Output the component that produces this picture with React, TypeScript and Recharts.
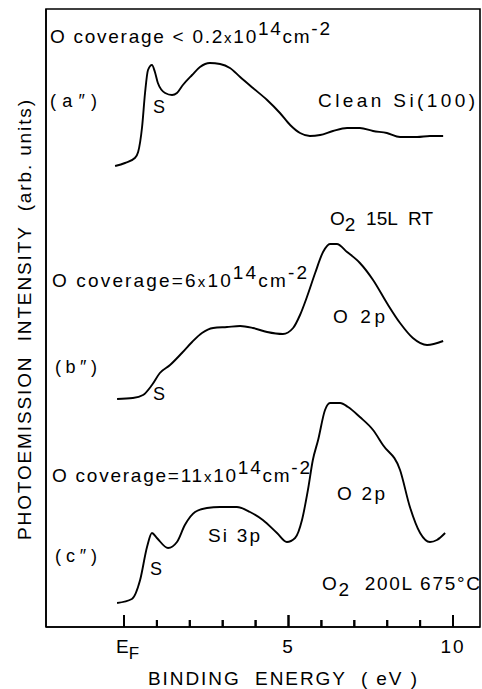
import React from "react";
import { LineChart, Line, XAxis, YAxis, ReferenceArea } from "recharts";

// binding energy (eV) and intensity (arb. units)
const energyA = [-0.27, 0.03, 0.33, 0.43, 0.55, 0.64, 0.73, 0.85, 0.94, 1.03, 1.25, 1.46, 1.61, 1.79, 2.07, 2.31, 2.61, 2.92, 3.22, 3.53, 3.92, 4.35, 4.74, 5.05, 5.35, 5.65, 5.96, 6.35, 6.78, 7.17, 7.57, 7.99, 8.39, 8.91, 9.3, 9.7];
const intensityA = [461, 464, 469, 475, 500, 534, 557, 562, 555, 544, 534, 532, 534, 542, 552, 560, 564, 563, 559, 550, 539, 527, 514, 502, 494, 491, 492, 496, 499, 499, 496, 494, 490, 490, 491, 491];

const energyB = [-0.21, 0.27, 0.58, 0.85, 1.09, 1.4, 1.76, 2.07, 2.37, 2.71, 3.13, 3.53, 3.92, 4.35, 4.83, 5.14, 5.35, 5.56, 5.81, 6.05, 6.26, 6.47, 6.78, 7.17, 7.57, 7.99, 8.39, 8.78, 9.21, 9.7];
const intensityB = [228, 229, 232, 242, 254, 262, 274, 285, 294, 299, 300, 301, 299, 295, 293, 299, 312, 330, 354, 375, 383, 383, 375, 364, 347, 324, 304, 289, 282, 286];

const energyC = [-0.21, 0.24, 0.49, 0.7, 0.85, 1.0, 1.34, 1.61, 1.85, 2.16, 2.52, 2.92, 3.43, 3.83, 4.22, 4.65, 4.95, 5.2, 5.41, 5.59, 5.74, 5.9, 6.11, 6.26, 6.57, 6.81, 7.17, 7.57, 7.87, 8.39, 8.69, 9.0, 9.3, 9.51, 9.76];
const intensityC = [24, 28, 47, 80, 94, 89, 79, 85, 102, 115, 119, 120, 120, 115, 107, 94, 85, 89, 107, 137, 167, 187, 217, 224, 224, 220, 210, 197, 182, 157, 120, 94, 85, 87, 94];

const xDomain = [-2.37, 10.82];
const yDomain = [0, 618];
const xTicks = [0, 1, 2, 3, 4, 5, 6, 7, 8, 9, 10];
const majorTicks: Record<number, string> = { 0: "E", 5: "5", 10: "10" };

const toRows = (e: number[], v: number[]) => e.map((x, i) => ({ e: x, v: v[i] }));
const curveA = toRows(energyA, intensityA);
const curveB = toRows(energyB, intensityB);
const curveC = toRows(energyC, intensityC);

const FONT = "'Liberation Sans', Arial, Helvetica, sans-serif";

// tick labels under the axis (E_F, 5, 10) plus inward tick marks
function Tick(props: any) {
  const { x, y, payload } = props;
  const major = payload.value in majorTicks;
  return (
    <g>
      <line x1={x} x2={x} y1={y} y2={y - (major ? 12 : 7)} stroke="#000" strokeWidth={2} />
      {major && payload.value === 0 && (
        <text x={x - 8} y={y + 26} fontSize={19} fontFamily={FONT} fill="#000">
          E<tspan fontSize={17} dy={6}>F</tspan>
        </text>
      )}
      {major && payload.value !== 0 && (
        <text x={x} y={y + 26} fontSize={19} fontFamily={FONT} fill="#000" textAnchor="middle" letterSpacing={2}>
          {majorTicks[payload.value]}
        </text>
      )}
    </g>
  );
}

export default function App() {
  const t = { fontFamily: FONT, fill: "#000", fontSize: 19, lengthAdjust: "spacing", style: { whiteSpace: "pre" } } as const;
  return (
    <div style={{ position: "absolute", left: 0, top: 0, width: 482, height: 689, background: "#fff" }}>
      <svg width={482} height={689} style={{ position: "absolute", left: 0, top: 0, pointerEvents: "none" }}>
        <text {...t} x={50} y={43} textLength={280}>
          O coverage &lt; 0.2<tspan fontSize={15}>x</tspan>10<tspan dy={-8}>14</tspan>
          <tspan dy={8}>cm</tspan><tspan dy={-8}>-2</tspan>
        </text>
        <text {...t} x={50} y={107} fontSize={18} textLength={47}>(a″)</text>
        <text {...t} x={153} y={113} fontSize={18}>S</text>
        <text {...t} x={318} y={107} textLength={157}>Clean Si(100)</text>
        <text {...t} x={330} y={225} textLength={103}>
          O<tspan dy={6}>2</tspan><tspan dy={-6}>  15L  RT</tspan>
        </text>

        <text {...t} x={52} y={287} textLength={255}>
          O coverage=6<tspan fontSize={15}>x</tspan>10<tspan dy={-8}>14</tspan>
          <tspan dy={8}>cm</tspan><tspan dy={-8}>-2</tspan>
        </text>
        <text {...t} x={333} y={323} textLength={52}>O 2p</text>
        <text {...t} x={55} y={373} fontSize={18} textLength={42}>(b″)</text>
        <text {...t} x={153} y={400} fontSize={18}>S</text>

        <text {...t} x={52} y={482} textLength={258}>
          O coverage=11<tspan fontSize={15}>x</tspan>10<tspan dy={-8}>14</tspan>
          <tspan dy={8}>cm</tspan><tspan dy={-8}>-2</tspan>
        </text>
        <text {...t} x={337} y={500} textLength={48}>O 2p</text>
        <text {...t} x={208} y={542} textLength={52}>Si 3p</text>
        <text {...t} x={55} y={562} fontSize={18} textLength={42}>(c″)</text>
        <text {...t} x={150} y={575} fontSize={18}>S</text>
        <text {...t} x={322} y={590} textLength={158}>
          O<tspan dy={6}>2</tspan><tspan dy={-6}>  200L 675°C</tspan>
        </text>

        <text {...t} x={148} y={685} textLength={269}>
          BINDING  ENERGY  ( eV )
        </text>
        <text {...t} x={0} y={0} textLength={440} transform="translate(31,540) rotate(-90)">
          PHOTOEMISSION  INTENSITY  (arb. units)
        </text>
      </svg>
      <LineChart width={482} height={689} margin={{ top: 9, right: 2, bottom: 32, left: 45 }}>
        <XAxis
          dataKey="e"
          type="number"
          domain={xDomain}
          ticks={xTicks}
          tickSize={0}
          tickMargin={0}
          tick={<Tick />}
          height={30}
          stroke="#000"
          strokeWidth={1.6}
        />
        <YAxis type="number" domain={yDomain} tick={false} width={1} stroke="#000" strokeWidth={1.6} />
        <ReferenceArea x1={xDomain[0]} x2={xDomain[1]} y1={yDomain[0]} y2={yDomain[1]} fill="none" fillOpacity={0} stroke="#000" strokeWidth={1.6} strokeOpacity={1} />
        {/* inward tick marks, one thin area per tick */}
        {xTicks.map((v) => (
          <ReferenceArea
            key={v}
            x1={v - 0.03}
            x2={v + 0.03}
            y1={0}
            y2={v in majorTicks ? 12 : 7}
            fill="#000"
            fillOpacity={1}
            stroke="none"
          />
        ))}
        <Line data={curveA} dataKey="v" type="monotone" stroke="#000" strokeWidth={1.9} dot={false} isAnimationActive={false} />
        <Line data={curveB} dataKey="v" type="monotone" stroke="#000" strokeWidth={1.9} dot={false} isAnimationActive={false} />
        <Line data={curveC} dataKey="v" type="monotone" stroke="#000" strokeWidth={1.9} dot={false} isAnimationActive={false} />
      </LineChart>
    </div>
  );
}
